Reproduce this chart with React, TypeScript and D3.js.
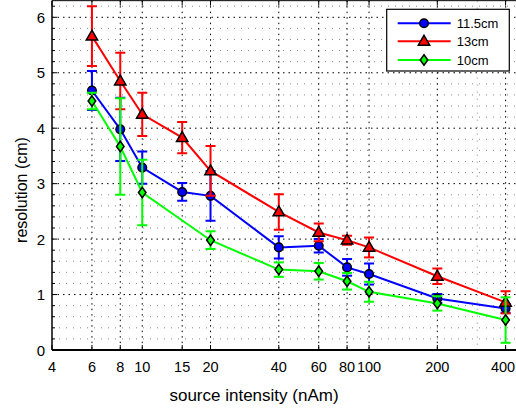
import React from "react";
import * as d3 from "d3";

const xTicks = [4, 6, 8, 10, 15, 20, 40, 60, 80, 100, 200, 400];
const xMinorGrid = [300];
const yTicks = [0, 1, 2, 3, 4, 5, 6];

const xBlue = [6, 8, 10, 15, 20, 40, 60, 80, 100, 200, 400];
const blueVals = [4.68, 3.98, 3.29, 2.85, 2.78, 1.85, 1.88, 1.49, 1.37, 0.93, 0.75];
const blueErr = [0.35, 0.57, 0.29, 0.16, 0.45, 0.2, 0.12, 0.15, 0.19, 0.08, 0.08];

const xRed = [6, 8, 10, 15, 20, 40, 60, 80, 100, 200, 400];
const redVals = [5.66, 4.85, 4.25, 3.83, 3.23, 2.49, 2.12, 1.98, 1.85, 1.33, 0.86];
const redErr = [0.54, 0.51, 0.39, 0.28, 0.45, 0.32, 0.16, 0.08, 0.18, 0.14, 0.2];

const xGreen = [6, 8, 10, 20, 40, 60, 80, 100, 200, 400];
const greenVals = [4.49, 3.67, 2.84, 1.98, 1.45, 1.42, 1.24, 1.05, 0.84, 0.54];
const greenErr = [0.15, 0.87, 0.59, 0.16, 0.13, 0.15, 0.15, 0.18, 0.13, 0.41];

const seriesNames = ["11.5cm", "13cm", "10cm"];

const W = 516;
const H = 410;
const left = 52;
const bottom = 350;

const x = d3.scaleLog().domain([4, 500]).range([left, left + 226.8 * Math.log10(125)]);
const y = d3.scaleLinear().domain([0, 6.3]).range([bottom, bottom - 6.3 * 55.45]);

const FONT = "Arial, 'Liberation Sans', Helvetica, sans-serif";

type Series = { xs: number[]; vals: number[]; err: number[]; color: string; marker: string };

const series: Series[] = [
  { xs: xBlue, vals: blueVals, err: blueErr, color: "#0000ff", marker: "circle" },
  { xs: xRed, vals: redVals, err: redErr, color: "#ff0000", marker: "triangle" },
  { xs: xGreen, vals: greenVals, err: greenErr, color: "#00ff00", marker: "diamond" },
];

function Marker({ kind, cx, cy, fill }: { kind: string; cx: number; cy: number; fill: string }) {
  if (kind === "circle") {
    return <circle cx={cx} cy={cy} r={4.3} fill={fill} stroke="#000" strokeWidth={1.5} />;
  }
  if (kind === "triangle") {
    const s = 6;
    const p = `${cx},${cy - s} ${cx + s * 0.95},${cy + s * 0.65} ${cx - s * 0.95},${cy + s * 0.65}`;
    return <polygon points={p} fill={fill} stroke="#000" strokeWidth={1.5} strokeLinejoin="miter" />;
  }
  const h = 5.2;
  const w = 3.8;
  const p = `${cx},${cy - h} ${cx + w},${cy} ${cx},${cy + h} ${cx - w},${cy}`;
  return <polygon points={p} fill={fill} stroke="#000" strokeWidth={1.5} />;
}

export default function App() {
  const yTop = y(6.3);
  const xRight = x(500);
  const line = d3
    .line<[number, number]>()
    .x((d) => x(d[0]))
    .y((d) => y(d[1]));

  const yMinor = d3.range(0, 6.3001, 0.2).filter((v) => Math.abs(v - Math.round(v)) > 1e-6);

  return (
    <svg
      width={W}
      height={H}
      style={{ position: "absolute", left: 0, top: 0, background: "#fff" }}
      fontFamily={FONT}
    >
      <rect x={0} y={0} width={W} height={H} fill="#fff" />
      <defs>
        <clipPath id="plot">
          <rect x={left} y={yTop} width={xRight - left} height={bottom - yTop} />
        </clipPath>
      </defs>
      {/* minor horizontal grid */}
      {yMinor.map((v) => (
        <line
          key={"ym" + v}
          x1={left}
          x2={xRight}
          y1={y(v)}
          y2={y(v)}
          stroke="#888"
          strokeWidth={1}
          strokeDasharray="1 6"
        />
      ))}
      {/* minor vertical grid */}
      {xMinorGrid.map((v) => (
        <line
          key={"xm" + v}
          x1={x(v)}
          x2={x(v)}
          y1={yTop}
          y2={bottom}
          stroke="#888"
          strokeWidth={1}
          strokeDasharray="1 6"
        />
      ))}
      {/* major grid */}
      {yTicks
        .filter((v) => v > 0)
        .map((v) => (
          <line
            key={"yg" + v}
            x1={left}
            x2={xRight}
            y1={y(v)}
            y2={y(v)}
            stroke="#000"
            strokeWidth={1}
            strokeDasharray="1.5 4"
          />
        ))}
      {xTicks
        .filter((v) => v > 4)
        .map((v) => (
          <line
            key={"xg" + v}
            x1={x(v)}
            x2={x(v)}
            y1={yTop}
            y2={bottom}
            stroke="#000"
            strokeWidth={1}
            strokeDasharray="1.5 4"
          />
        ))}
      {/* ticks */}
      {yTicks.map((v) => (
        <g key={"yt" + v}>
          <line x1={left} x2={left + 5} y1={y(v)} y2={y(v)} stroke="#000" strokeWidth={1} />
          <text
            x={left - 7}
            y={y(v)}
            textAnchor="end"
            dominantBaseline="central"
            fontSize={15}
            fill="#000"
          >
            {v}
          </text>
        </g>
      ))}
      {yMinor.map((v) => (
        <line key={"ymt" + v} x1={left} x2={left + 3} y1={y(v)} y2={y(v)} stroke="#000" strokeWidth={1} />
      ))}
      {xTicks.map((v) => (
        <g key={"xt" + v}>
          <line x1={x(v)} x2={x(v)} y1={bottom} y2={bottom - 5} stroke="#000" strokeWidth={1} />
          <line x1={x(v)} x2={x(v)} y1={yTop} y2={yTop + 5} stroke="#000" strokeWidth={1} />
          <text x={Math.min(x(v), W - 13)} y={372} textAnchor="middle" fontSize={14.5} fill="#000">
            {v}
          </text>
        </g>
      ))}
      {/* series */}
      <g clipPath="url(#plot)">
        {series.map((s, si) => {
          const pts: [number, number][] = s.xs.map((xv, i) => [xv, s.vals[i]]);
          return (
            <g key={"s" + si}>
              {s.xs.map((xv, i) => {
                const cx = x(xv);
                const t = y(s.vals[i] + s.err[i]);
                const b = y(s.vals[i] - s.err[i]);
                return (
                  <g key={"e" + i} stroke={s.color} strokeWidth={2}>
                    <line x1={cx} x2={cx} y1={t} y2={b} />
                    <line x1={cx - 5} x2={cx + 5} y1={t} y2={t} />
                    <line x1={cx - 5} x2={cx + 5} y1={b} y2={b} />
                  </g>
                );
              })}
              <path d={line(pts) || ""} fill="none" stroke={s.color} strokeWidth={2} />
              {pts.map((p, i) => (
                <Marker key={"m" + i} kind={s.marker} cx={x(p[0])} cy={y(p[1])} fill={s.color} />
              ))}
            </g>
          );
        })}
      </g>
      {/* axes box */}
      <line x1={left} x2={xRight} y1={bottom} y2={bottom} stroke="#000" strokeWidth={2} />
      <line x1={left} x2={xRight} y1={yTop} y2={yTop} stroke="#000" strokeWidth={1} />
      <line x1={left} x2={left} y1={yTop} y2={bottom} stroke="#000" strokeWidth={1.5} />
      {/* labels */}
      <text x={254} y={401} textAnchor="middle" fontSize={17} fill="#000">
        source intensity (nAm)
      </text>
      <text
        transform={`translate(27,190) rotate(-90)`}
        textAnchor="middle"
        fontSize={16}
        fill="#000"
      >
        resolution (cm)
      </text>
      {/* legend */}
      <rect x={386.7} y={9.3} width={122.6} height={61.7} fill="#fff" stroke="#000" strokeWidth={1.2} />
      {series.map((s, i) => {
        const ly = [23.3, 41.3, 60][i];
        return (
          <g key={"l" + i}>
            <line x1={397.7} x2={450.7} y1={ly} y2={ly} stroke={s.color} strokeWidth={2} />
            <Marker kind={s.marker} cx={424} cy={ly} fill={s.color} />
            <text x={456.7} y={ly} dominantBaseline="central" fontSize={13} fill="#000">
              {seriesNames[i]}
            </text>
          </g>
        );
      })}
    </svg>
  );
}
